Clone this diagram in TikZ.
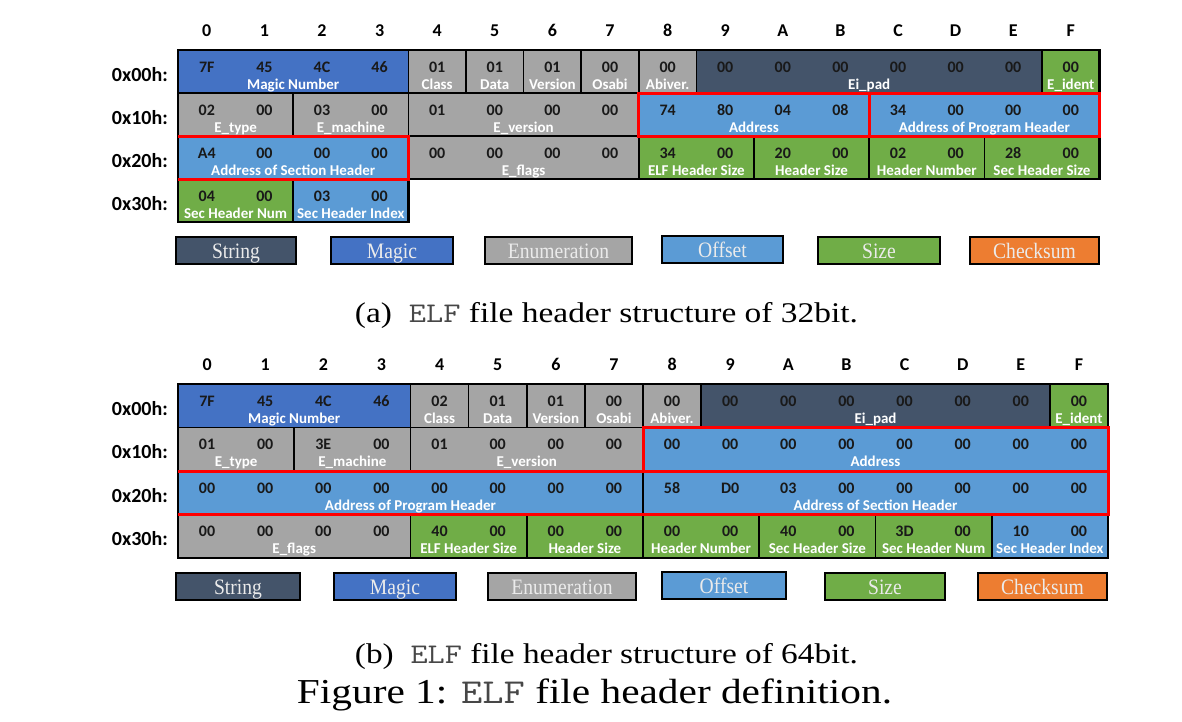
\documentclass[tikz,border=0pt]{standalone}
\usepackage{fontspec}
\setmainfont{Liberation Serif}
\newfontfamily\carl{Carlito}
\definecolor{cstr}{HTML}{44546A}
\definecolor{cmag}{HTML}{4472C4}
\definecolor{cenum}{HTML}{A5A5A5}
\definecolor{coff}{HTML}{5B9BD5}
\definecolor{csize}{HTML}{70AD47}
\definecolor{cchk}{HTML}{ED7D31}
\definecolor{cred}{HTML}{FF0000}
\tikzset{
  cellbox/.style={draw=black, line width=1.6pt, inner sep=0pt, outer sep=0pt, anchor=north west},
  valtxt/.style={font=\carl\bfseries\fontsize{16}{18}\selectfont, text=black!90, inner sep=0pt, anchor=base},
  labtxt/.style={font=\carl\bfseries\fontsize{15}{17}\selectfont, text=white, inner sep=0pt, anchor=base},
  hdr/.style={font=\carl\bfseries\fontsize{18}{20}\selectfont, inner sep=0pt, anchor=base},
  rowlab/.style={font=\carl\bfseries\fontsize{20}{22}\selectfont, inner sep=0pt, anchor=base east},
  legbox/.style={draw=black, line width=1.6pt, text=white!92!black, font=\fontsize{22}{24}\selectfont, inner sep=0pt, minimum height=27pt, text height=17pt, text depth=2pt},
  redbox/.style={draw=cred, line width=3pt},
  outerbox/.style={draw=black, line width=2.6pt},
  captxt/.style={font=\fontsize{28.5}{32}\selectfont, inner sep=0pt, anchor=base},
  figtxt/.style={font=\fontsize{35}{38}\selectfont, inner sep=0pt, anchor=base}
}
\newcommand\legtxt[1]{\scalebox{0.89}[1]{#1}}
\newcommand\elfmono[1]{{\ttfamily\color{black!72}#1}}
% #1 prefix, #2 row, #3 first col, #4 end col, #5 colour, #6 label, #7 values
\newcommand\elfcell[7]{%
  \pgfmathsetmacro\ecxa{\gx+#3*\cw}%
  \pgfmathsetmacro\ecxb{\gx+#4*\cw}%
  \pgfmathsetmacro\ecya{\gy+#2*\rh}%
  \pgfmathsetmacro\ecw{(#4-#3)*\cw}%
  \pgfmathsetmacro\ecxm{(\ecxa+\ecxb)/2}%
  \node[cellbox, fill=#5, minimum width=\ecw pt, minimum height=\rh pt] (#1c#2x#3) at (\ecxa,\ecya) {};
  \node[labtxt] (#1l#2x#3) at (\ecxm,\ecya+39) {#6};
  \foreach \v [count=\i from #3] in {#7} {
    \node[valtxt] (#1v#2x\i) at ({\gx+(\i+0.5)*\cw},\ecya+22) {\v};
  }
}
\newcommand\elfheads[1]{%
  \foreach \h [count=\i from 0] in {0,1,2,3,4,5,6,7,8,9,A,B,C,D,E,F} {
    \node[hdr] (#1h\i) at ({\gx+(\i+0.5)*\cw},\gy-14) {\h};
  }
  \foreach \r [count=\i from 0] in {0x00h:,0x10h:,0x20h:,0x30h:} {
    \node[rowlab] (#1r\i) at (168,{\gy+\i*\rh+31}) {\r};
  }
}
\begin{document}
\begin{tikzpicture}[x=1pt,y=-1pt]
\useasboundingbox (0,0) rectangle (1182,721);
\fill[white] (0,0) rectangle (1182,721);

% ================= (a) 32 bit =================
\def\gx{178}\def\cw{57.6}\def\gy{50}\def\rh{43}
\elfheads{a}
\elfcell{a}{0}{0}{4}{cmag}{Magic Number}{7F,45,4C,46}
\elfcell{a}{0}{4}{5}{cenum}{Class}{01}
\elfcell{a}{0}{5}{6}{cenum}{Data}{01}
\elfcell{a}{0}{6}{7}{cenum}{Version}{01}
\elfcell{a}{0}{7}{8}{cenum}{Osabi}{00}
\elfcell{a}{0}{8}{9}{cenum}{Abiver.}{00}
\elfcell{a}{0}{9}{15}{cstr}{Ei\_pad}{00,00,00,00,00,00}
\elfcell{a}{0}{15}{16}{csize}{E\_ident}{00}
\elfcell{a}{1}{0}{2}{cenum}{E\_type}{02,00}
\elfcell{a}{1}{2}{4}{cenum}{E\_machine}{03,00}
\elfcell{a}{1}{4}{8}{cenum}{E\_version}{01,00,00,00}
\elfcell{a}{1}{8}{12}{coff}{Address}{74,80,04,08}
\elfcell{a}{1}{12}{16}{coff}{Address of Program Header}{34,00,00,00}
\elfcell{a}{2}{0}{4}{coff}{Address of Section Header}{A4,00,00,00}
\elfcell{a}{2}{4}{8}{cenum}{E\_flags}{00,00,00,00}
\elfcell{a}{2}{8}{10}{csize}{ELF Header Size}{34,00}
\elfcell{a}{2}{10}{12}{csize}{Header Size}{20,00}
\elfcell{a}{2}{12}{14}{csize}{Header Number}{02,00}
\elfcell{a}{2}{14}{16}{csize}{Sec Header Size}{28,00}
\elfcell{a}{3}{0}{2}{csize}{Sec Header Num}{04,00}
\elfcell{a}{3}{2}{4}{coff}{Sec Header Index}{03,00}
\draw[outerbox] (ac0x0.north west) -| (ac2x14.south east) -| (ac3x2.south east) -| cycle;
\draw[redbox] (ac1x8.north west) rectangle (ac1x12.south east);
\draw[redbox] (ac1x12.north west) -- (ac1x12.south west);
\draw[redbox] (ac2x0.north west) -| (ac2x0.south east) -- (ac2x0.south west);

% legend (a)
\node[legbox, fill=cstr,  minimum width=120pt] (aks) at (236,250.5) {\legtxt{String}};
\node[legbox, fill=cmag,  minimum width=122pt] (akm) at (392,250.5) {\legtxt{Magic}};
\node[legbox, fill=cenum, minimum width=147pt] (ake) at (558.5,250.5) {\legtxt{Enumeration}};
\node[legbox, fill=coff,  minimum width=121pt] (ako) at (722.5,249.5) {\legtxt{Offset}};
\node[legbox, fill=csize, minimum width=122pt] (akz) at (879,250.5) {\legtxt{Size}};
\node[legbox, fill=cchk,  minimum width=129pt] (akc) at (1034.5,250.5) {\legtxt{Checksum}};

\node[captxt] (capa) at (606.5,322) {\resizebox{503pt}{\height}{(a)\enspace\elfmono{ELF} file header structure of 32bit.}};

% ================= (b) 64 bit =================
\def\gx{178}\def\cw{58.125}\def\gy{384}\def\rh{43.5}
\elfheads{b}
\elfcell{b}{0}{0}{4}{cmag}{Magic Number}{7F,45,4C,46}
\elfcell{b}{0}{4}{5}{cenum}{Class}{02}
\elfcell{b}{0}{5}{6}{cenum}{Data}{01}
\elfcell{b}{0}{6}{7}{cenum}{Version}{01}
\elfcell{b}{0}{7}{8}{cenum}{Osabi}{00}
\elfcell{b}{0}{8}{9}{cenum}{Abiver.}{00}
\elfcell{b}{0}{9}{15}{cstr}{Ei\_pad}{00,00,00,00,00,00}
\elfcell{b}{0}{15}{16}{csize}{E\_ident}{00}
\elfcell{b}{1}{0}{2}{cenum}{E\_type}{01,00}
\elfcell{b}{1}{2}{4}{cenum}{E\_machine}{3E,00}
\elfcell{b}{1}{4}{8}{cenum}{E\_version}{01,00,00,00}
\elfcell{b}{1}{8}{16}{coff}{Address}{00,00,00,00,00,00,00,00}
\elfcell{b}{2}{0}{8}{coff}{Address of Program Header}{00,00,00,00,00,00,00,00}
\elfcell{b}{2}{8}{16}{coff}{Address of Section Header}{58,D0,03,00,00,00,00,00}
\elfcell{b}{3}{0}{4}{cenum}{E\_flags}{00,00,00,00}
\elfcell{b}{3}{4}{6}{csize}{ELF Header Size}{40,00}
\elfcell{b}{3}{6}{8}{csize}{Header Size}{00,00}
\elfcell{b}{3}{8}{10}{csize}{Header Number}{00,00}
\elfcell{b}{3}{10}{12}{csize}{Sec Header Size}{40,00}
\elfcell{b}{3}{12}{14}{csize}{Sec Header Num}{3D,00}
\elfcell{b}{3}{14}{16}{coff}{Sec Header Index}{10,00}
\draw[outerbox] (bc0x0.north west) rectangle (bc3x14.south east);
\draw[redbox] (bc1x8.north west) rectangle (bc1x8.south east);
\draw[redbox] (bc2x0.north west) -| (bc2x8.south east) -- (bc2x0.south west);

% legend (b)
\node[legbox, fill=cstr,  minimum width=124pt] (bks) at (238,586.5) {\legtxt{String}};
\node[legbox, fill=cmag,  minimum width=122pt] (bkm) at (395,586.5) {\legtxt{Magic}};
\node[legbox, fill=cenum, minimum width=148pt] (bke) at (562,586.5) {\legtxt{Enumeration}};
\node[legbox, fill=coff,  minimum width=124pt] (bko) at (724,585.5) {\legtxt{Offset}};
\node[legbox, fill=csize, minimum width=120pt] (bkz) at (885,586.5) {\legtxt{Size}};
\node[legbox, fill=cchk,  minimum width=129pt] (bkc) at (1042.5,586.5) {\legtxt{Checksum}};

\node[captxt] (capb) at (606.5,663.5) {\resizebox{503pt}{\height}{(b)\enspace\elfmono{ELF} file header structure of 64bit.}};
\node[figtxt] (capf) at (594.5,703) {\resizebox{595pt}{\height}{Figure 1: \elfmono{ELF} file header definition.}};
\end{tikzpicture}
\end{document}
